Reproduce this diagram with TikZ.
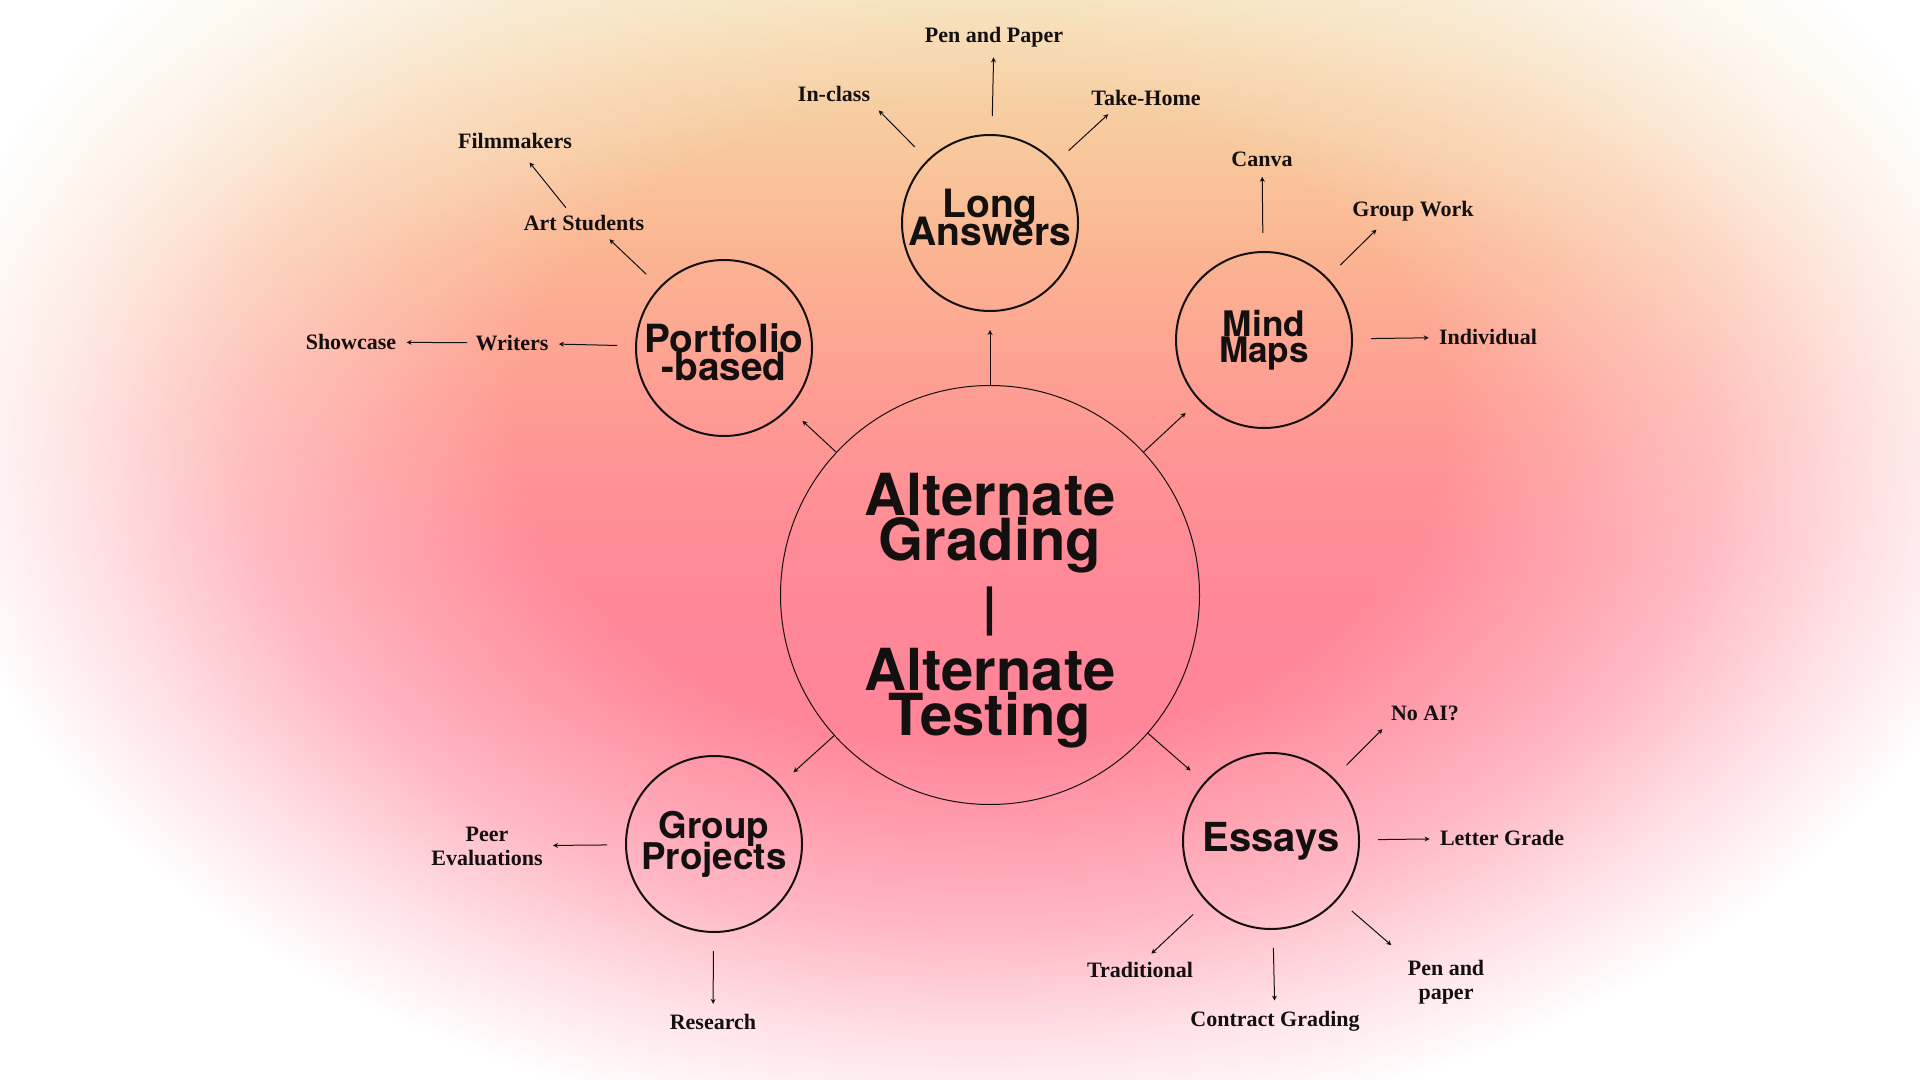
\documentclass[tikz,border=0pt]{standalone}
\usepackage{fontspec}
\setmainfont{Liberation Serif}
\newfontfamily\headfont{TeX Gyre Heros}
\usetikzlibrary{positioning,arrows.meta,fadings,shadings}

\definecolor{bgA}{HTML}{F0E4C2}
\definecolor{bgB}{HTML}{F5DCB0}
\definecolor{bgC}{HTML}{F8C89C}
\definecolor{bgD}{HTML}{FBB592}
\definecolor{bgE}{HTML}{FE9C93}
\definecolor{bgF}{HTML}{FF8A97}
\definecolor{bgG}{HTML}{FF8598}
\definecolor{bgH}{HTML}{FF8AA0}
\definecolor{ink}{HTML}{141010}

\pgfdeclareverticalshading{warmglow}{100bp}{color(0bp)=(bgH); color(25bp)=(bgH);
  color(40.3bp)=(bgG); color(45.5bp)=(bgF); color(50.7bp)=(bgE); color(55.9bp)=(bgD);
  color(59.4bp)=(bgC); color(64.6bp)=(bgB); color(75bp)=(bgA); color(100bp)=(bgA)}
\pgfdeclareradialshading{softedgeshade}{\pgfpointorigin}{color(0bp)=(white);
  color(11bp)=(white); color(17.5bp)=(black!40);
  color(21.5bp)=(black!75); color(25bp)=(black); color(50bp)=(black)}
\pgfdeclarefading{softedge}{\pgfuseshading{softedgeshade}}

\newcommand{\headsize}[2]{\headfont\bfseries\fontsize{#1}{#2}\selectfont
  \lineskiplimit=-100pt}

\begin{document}
\begin{tikzpicture}[x=0.5pt,y=-0.5pt,
    hub/.style={circle,draw=ink,line width=0.5pt,minimum size=209.5pt,inner sep=0pt,
      align=center,text=ink,font=\headsize{29}{22.5}},
    topic/.style={circle,draw=ink,line width=1pt,minimum size=88pt,inner sep=-4pt,
      align=center,text=ink},
    leaf/.style={align=center,text=ink,inner sep=2pt,
      font=\bfseries\fontsize{11}{12}\selectfont},
    link/.style={-{Stealth[length=2.5pt,width=2.5pt]},draw=ink,line width=0.5pt,
      shorten >=9pt},
    twig/.style={-{Stealth[length=2.5pt,width=2.5pt]},draw=ink,line width=0.5pt,
      shorten <=9pt,shorten >=3pt}]

  \useasboundingbox (0,0) rectangle (1920,1080);
  \fill[white] (0,0) rectangle (1920,1080);
  \begin{scope}
    \clip (0,0) rectangle (1920,1080);
    \path[shading=warmglow,path fading=softedge]
      (980,420) ellipse [x radius=1050,y radius=720];
  \end{scope}

  \node[hub] (main) at (990,595)
       {\rule{0pt}{36.5pt}Alternate\\Grading\\[10pt]{\fontsize{26.5}{22.5}\selectfont|}\\[10pt]
        Alternate\\Testing};

  \node[topic,font=\headsize{19.5}{14}] (long) at (990,223)
       {Long\\Answers\rule[-6pt]{0pt}{0pt}};
  \node[topic,font=\headsize{19.4}{14}] (portfolio) at (724,348)
       {\rule{0pt}{19pt}Portfolio\\-based};
  \node[topic,font=\headsize{17.6}{13}] (mind) at (1264,340) {Mind\\Maps};
  \node[topic,font=\headsize{18.4}{15.5}] (group) at (714,844) {Group\\Projects};
  \node[topic,font=\headsize{20}{15}] (essays) at (1271,841) {Essays};

  \node[leaf] (penpaper) at (994,37) {Pen and Paper};
  \node[leaf] (inclass) at (834,94) {In-class};
  \node[leaf] (takehome) at (1146,98) {Take-Home};

  \node[leaf] (filmmakers) at (515,141) {Filmmakers};
  \node[leaf] (artstudents) at (584,223) {Art Students};
  \node[leaf] (writers) at (512,343) {Writers};
  \node[leaf] (showcase) at (351,342) {Showcase};

  \node[leaf] (canva) at (1262,159) {Canva};
  \node[leaf] (groupwork) at (1413,211) {Group Work};
  \node[leaf] (individual) at (1488,337) {Individual};

  \node[leaf] (noai) at (1425,713) {No AI?};
  \node[leaf] (lettergrade) at (1502,838) {Letter Grade};
  \node[leaf] (penpaperB) at (1446,982) {Pen and\\paper};
  \node[leaf] (contract) at (1275,1021) {Contract Grading};
  \node[leaf] (traditional) at (1140,970) {Traditional};

  \node[leaf] (peer) at (487,846) {Peer\\Evaluations};
  \node[leaf] (research) at (713,1022) {Research};

  \draw[link] (main) -- (long);
  \draw[link] (main) -- (portfolio);
  \draw[link] (main) -- (mind);
  \draw[link] (main) -- (group);
  \draw[link] (main) -- (essays);

  \draw[twig] (long) -- (penpaper);
  \draw[twig] (long) -- (inclass.south east);
  \draw[twig] (long) -- (takehome.-160);

  \draw[twig] (portfolio) -- (artstudents.-30);
  \draw[twig,shorten <=2pt,shorten >=6pt] (artstudents.142) -- (filmmakers.-60);
  \draw[twig] (portfolio) -- (writers);
  \draw[twig,shorten <=2pt] (writers) -- (showcase);

  \draw[twig] (mind) -- (canva);
  \draw[twig] (mind) -- (groupwork.-156);
  \draw[twig] (mind) -- (individual);

  \draw[twig] (essays) -- (noai.south west);
  \draw[twig] (essays) -- (lettergrade);
  \draw[twig,shorten >=8pt] (essays) -- (penpaperB.north west);
  \draw[twig] (essays) -- (contract);
  \draw[twig] (essays) -- (traditional.60);

  \draw[twig] (group) -- (peer);
  \draw[twig] (group) -- (research);

\end{tikzpicture}
\end{document}
